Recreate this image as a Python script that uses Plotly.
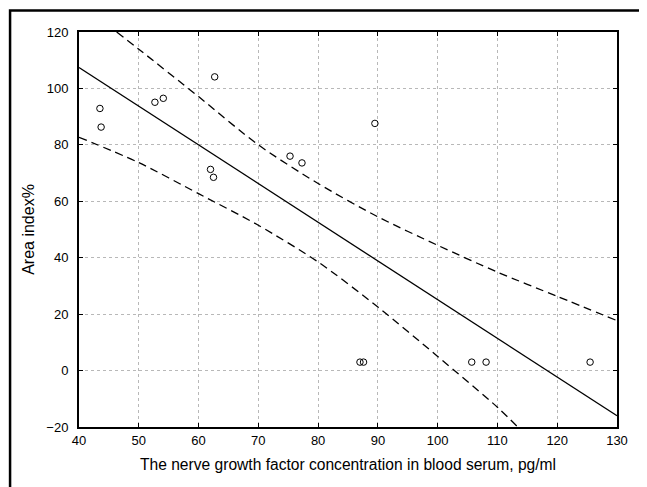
import plotly.graph_objects as go

# Scatter data
ngf = [43.5, 43.7, 52.7, 54.1, 62.7, 62.0, 62.5, 75.3, 77.3, 89.5, 87.0, 87.6, 105.7, 108.1, 125.5]
area = [92.9, 86.3, 95.1, 96.5, 104.1, 71.3, 68.5, 76.0, 73.6, 87.6, 3.0, 3.0, 3.0, 3.0, 3.0]

# Regression line endpoints
fit_x = [40, 130]
fit_y = [107.4, -16.0]

# Confidence band (upper)
up_x = [46.3, 50, 60, 70, 80, 90, 100, 110, 120, 130]
up_y = [120, 113.9, 97.1, 80.0, 66.3, 54.5, 44.4, 34.9, 26.3, 17.7]

# Confidence band (lower)
lo_x = [40, 50, 60, 70, 80, 90, 100, 110, 113.4]
lo_y = [82.7, 73.7, 62.7, 51.5, 38.5, 22.5, 5.0, -13.0, -20.0]

x_ticks = list(range(40, 131, 10))
y_ticks = list(range(-20, 121, 20))

FONT = "Liberation Sans, Arial, sans-serif"

fig = go.Figure()
fig.add_trace(go.Scatter(x=fit_x, y=fit_y, mode="lines",
                         line=dict(color="black", width=1.3), showlegend=False))
fig.add_trace(go.Scatter(x=up_x, y=up_y, mode="lines",
                         line=dict(color="black", width=1.3, dash="8px,5px", shape="spline", smoothing=0.8),
                         showlegend=False))
fig.add_trace(go.Scatter(x=lo_x, y=lo_y, mode="lines",
                         line=dict(color="black", width=1.3, dash="8px,5px", shape="spline", smoothing=0.8),
                         showlegend=False))
fig.add_trace(go.Scatter(x=ngf, y=area, mode="markers",
                         marker=dict(symbol="circle-open", size=6.5, color="black", line=dict(width=1)),
                         showlegend=False))

# page has an 8px body margin; figure placed at (8,8)
OFF = 8
W, H = 647 - OFF, 487 - OFF
L, T = 79 - OFF, 32 - OFF
R = W - (617.5 - OFF)
B = H - (427.5 - OFF)
pw = W - L - R
ph = H - T - B

def px2paper_x(px):
    return (px - OFF - L) / pw

def px2paper_y(py):
    return (H - B - (py - OFF)) / ph

fig.add_shape(type="rect", xref="paper", yref="paper",
              x0=px2paper_x(10), x1=px2paper_x(642),
              y0=px2paper_y(492), y1=px2paper_y(10.5),
              line=dict(color="black", width=2.5), fillcolor="rgba(0,0,0,0)", layer="below")

axis_common = dict(
    showline=True, linecolor="black", linewidth=2, mirror="ticks",
    ticks="inside", ticklen=4, tickcolor="black", tickwidth=1,
    showgrid=True, gridcolor="#b8b8b8", griddash="dot", gridwidth=1,
    zeroline=False,
    tickfont=dict(family=FONT, size=13, color="black"),
)

fig.update_xaxes(range=[40, 130], tickvals=x_ticks, ticklabelstandoff=0,
                 title=dict(text="The nerve growth factor concentration in blood serum, pg/ml",
                            font=dict(family=FONT, size=15.6, color="black"),
                            standoff=12),
                 **axis_common)
fig.update_yaxes(range=[-20, 120], tickvals=y_ticks, ticklabelstandoff=6,
                 title=dict(text="Area index%",
                            font=dict(family=FONT, size=16, color="black"),
                            standoff=8),
                 **axis_common)

fig.update_layout(width=W, height=H, margin=dict(l=L, r=R, t=T, b=B, autoexpand=False),
                  paper_bgcolor="white", plot_bgcolor="white")

fig.write_html("out.html")
